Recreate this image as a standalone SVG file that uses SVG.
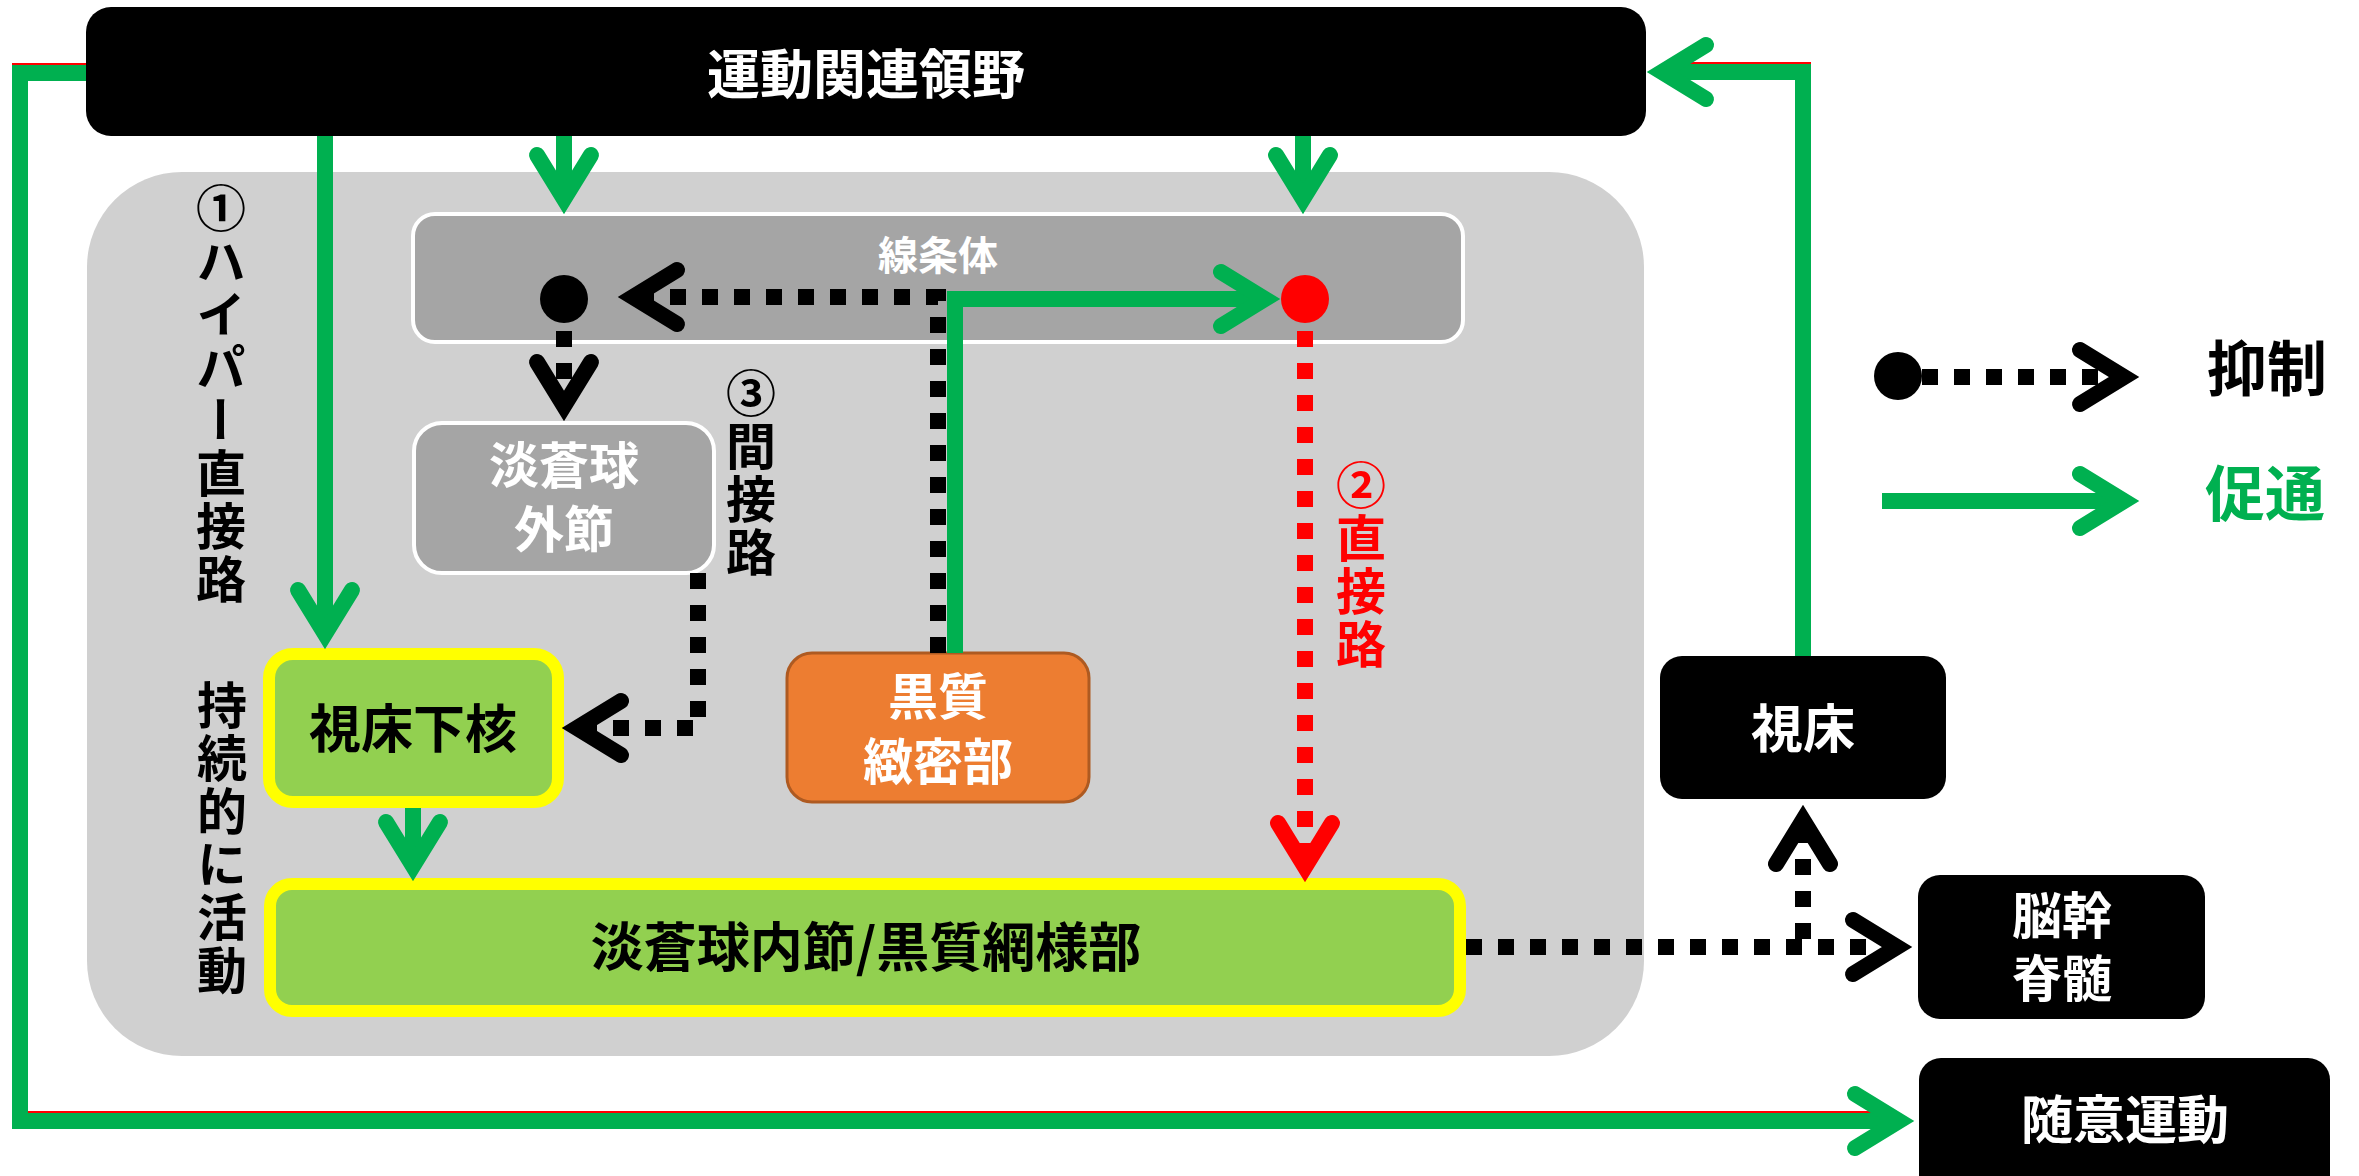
<svg xmlns="http://www.w3.org/2000/svg" width="2359" height="1176" viewBox="0 0 2359 1176">
<style>
  text { font-family: "Noto Sans CJK JP", "Noto Sans", sans-serif; font-weight: bold; }
  .c { text-anchor: middle; dominant-baseline: central; }
  .w { fill: #ffffff; }
  .k { fill: #000000; }
  .vt { writing-mode: vertical-rl; font-size: 50px; letter-spacing: 3px; }
  .box-k { fill: #000000; }
  .box-g { fill: #a5a5a5; stroke: #ffffff; stroke-width: 4; }
  .box-y { fill: #92d050; stroke: #ffff00; stroke-width: 12; }
  .g { fill: none; stroke: #00b050; stroke-width: 16; }
  .gs { fill: none; stroke: #ff0000; stroke-width: 16; }
  .kd { fill: none; stroke: #000000; stroke-width: 16; stroke-dasharray: 16 16; }
  .rd { fill: none; stroke: #ff0000; stroke-width: 16; stroke-dasharray: 16 16; }
</style>
<defs>
  <marker id="ag" markerUnits="userSpaceOnUse" orient="auto" overflow="visible" markerWidth="1" markerHeight="1" refX="0" refY="0">
    <path d="M-40,-27 L4,0 L-40,27" fill="none" stroke="#00b050" stroke-width="16" stroke-linecap="round" stroke-linejoin="miter"/>
  </marker>
  <marker id="ak" markerUnits="userSpaceOnUse" orient="auto" overflow="visible" markerWidth="1" markerHeight="1" refX="0" refY="0">
    <path d="M-40,-27 L4,0 L-40,27" fill="none" stroke="#000000" stroke-width="16" stroke-linecap="round" stroke-linejoin="miter"/>
  </marker>
  <marker id="ar" markerUnits="userSpaceOnUse" orient="auto" overflow="visible" markerWidth="1" markerHeight="1" refX="0" refY="0">
    <path d="M-40,-27 L4,0 L-40,27" fill="none" stroke="#ff0000" stroke-width="16" stroke-linecap="round" stroke-linejoin="miter"/>
  </marker>
</defs>

<rect id="basal-ganglia-area" x="87" y="172" width="1557" height="884" rx="95" fill="#d0d0d0"/>

<g id="motor-cortex">
  <rect class="box-k" x="86" y="7" width="1560" height="129" rx="25"/>
  <text class="c w" x="866" y="71" font-size="53">運動関連領野</text>
</g>

<g id="striatum">
  <rect class="box-g" x="413" y="214" width="1050" height="128" rx="22"/>
  <text class="c w" x="938" y="253" font-size="40">線条体</text>
</g>

<g id="gpe">
  <rect class="box-g" x="414" y="423" width="300" height="150" rx="28"/>
  <text class="c w" x="564" y="462" font-size="50">淡蒼球</text>
  <text class="c w" x="564" y="526" font-size="50">外節</text>
</g>

<g id="stn">
  <rect class="box-y" x="269" y="654" width="289" height="148" rx="24"/>
  <text class="c k" x="413" y="725" font-size="52">視床下核</text>
</g>

<g id="snc">
  <rect x="787" y="653" width="302" height="149" rx="25" fill="#ed7d31" stroke="#ae5a21" stroke-width="3"/>
  <text class="c w" x="938" y="693" font-size="50">黒質</text>
  <text class="c w" x="938" y="758" font-size="50">緻密部</text>
</g>

<g id="gpi-snr">
  <rect class="box-y" x="270" y="884" width="1190" height="127" rx="22"/>
  <text class="c k" x="866" y="944" font-size="53">淡蒼球内節/黒質網様部</text>
</g>

<g id="thalamus">
  <rect class="box-k" x="1660" y="656" width="286" height="143" rx="22"/>
  <text class="c w" x="1803" y="725" font-size="52">視床</text>
</g>

<g id="brainstem">
  <rect class="box-k" x="1918" y="875" width="287" height="144" rx="22"/>
  <text class="c w" x="2062" y="912" font-size="50">脳幹</text>
  <text class="c w" x="2062" y="975" font-size="50">脊髄</text>
</g>

<g id="voluntary">
  <rect class="box-k" x="1919" y="1058" width="411" height="150" rx="22"/>
  <text class="c w" x="2125" y="1116" font-size="52">随意運動</text>
</g>

<g id="connectors">
  <path class="gs" d="M86,73 H20 V1121 H1895" transform="translate(0,-2)"/>
  <path class="g" d="M86,73 H20 V1121 H1895" marker-end="url(#ag)"/>
  <path class="g" d="M325,136 V630" marker-end="url(#ag)"/>
  <path class="g" d="M564,136 V195" marker-end="url(#ag)"/>
  <path class="g" d="M1303,136 V195" marker-end="url(#ag)"/>
  <path class="kd" d="M938,653 V297 H637" marker-end="url(#ak)"/>
  <path class="g" d="M955,653 V299 H1261" marker-end="url(#ag)"/>
  <circle cx="564" cy="299" r="24" fill="#000000"/>
  <circle cx="1305" cy="299" r="24" fill="#ff0000"/>
  <path class="kd" d="M564,331 V402" marker-end="url(#ak)"/>
  <path class="kd" d="M698,573 V728 H581" marker-end="url(#ak)"/>
  <path class="g" d="M413,808 V862" marker-end="url(#ag)"/>
  <path class="rd" d="M1305,331 V863" marker-end="url(#ar)"/>
  <path class="kd" d="M1466,947 H1893" marker-end="url(#ak)"/>
  <path class="kd" d="M1803,939 V824" marker-end="url(#ak)"/>
  <path class="gs" d="M1803,656 V72 H1666" transform="translate(0,-2)"/>
  <path class="g" d="M1803,656 V72 H1666" marker-end="url(#ag)"/>
</g>

<g id="labels">
  <text class="vt k" x="221" y="183">①ハイパー直接路</text>
  <text class="vt k" x="222" y="680">持続的に活動</text>
  <text class="vt k" x="751" y="368">③間接路</text>
  <text class="vt" x="1361" y="460" fill="#ff0000">②直接路</text>
</g>

<g id="legend">
  <circle cx="1898" cy="376" r="24" fill="#000000"/>
  <path class="kd" d="M1922,377 H2120" marker-end="url(#ak)"/>
  <text class="k" x="2207" y="364" font-size="60" dominant-baseline="central">抑制</text>
  <path class="g" d="M1882,501 H2120" marker-end="url(#ag)"/>
  <text x="2205" y="489" font-size="60" dominant-baseline="central" fill="#00b050">促通</text>
</g>
</svg>
